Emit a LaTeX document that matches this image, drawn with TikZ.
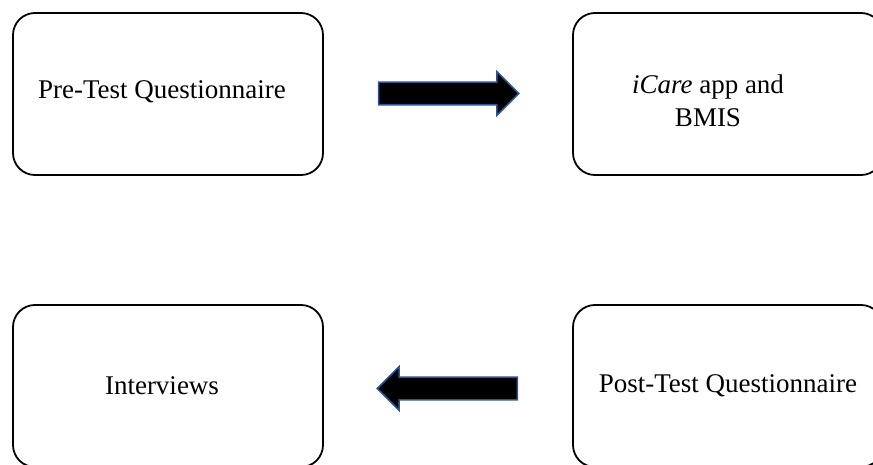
\documentclass[tikz,border=0pt]{standalone}
\usepackage{fontspec}
\setmainfont{Liberation Serif}
\usepackage{tikz}
\usepackage{tkz-euclide}
\usetikzlibrary{positioning}
\usetikzlibrary{shapes.arrows}
\definecolor{outline}{RGB}{47,85,151}

\begin{document}
\begin{tikzpicture}[
  x=1pt, y=-1pt,
  box/.style = {draw, line width=1.8pt, rounded corners=22pt,
    minimum width=310pt, minimum height=162pt, inner sep=0pt,
    align=center, font=\fontsize{27}{33}\selectfont},
  blockarrow/.style = {single arrow, draw=outline, fill=black, line width=1.6pt,
    minimum height=140pt, minimum width=42pt, single arrow head extend=10.5pt,
    single arrow head indent=0pt, inner xsep=0pt, inner ysep=10.5pt},
]

  \clip (0,0) rectangle (873,465);

  \tkzDefPoint(168,94){c0}
  \tkzDefPoint(728,94){c1}
  \tkzDefPoint(728,386){c2}
  \tkzDefPoint(168,386){c3}

  \tkzDefPoint(443,93.5){a0}
  \tkzDefPoint(453,388.5){a1}

  \node[box] (pretest) at (c0) {\raisebox{8pt}{Pre-Test Questionnaire}\hspace*{12pt}};
  \node[box, label={[name=usagetext, align=center, xshift=-20pt, yshift=-7pt,
    font=\fontsize{27}{33}\selectfont]center:{\textit{iCare} app and\\BMIS}}]
    (usage) at (c1) {};
  \node[box] (posttest) at (c2) {Post-Test Questionnaire};
  \node[box] (interviews) at (c3) {\raisebox{-3pt}{Interviews}\hspace*{12pt}};

  \node[blockarrow] (forward) at (a0) {};
  \node[blockarrow, shape border rotate=180] (backward) at (a1) {};

\end{tikzpicture}
\end{document}
